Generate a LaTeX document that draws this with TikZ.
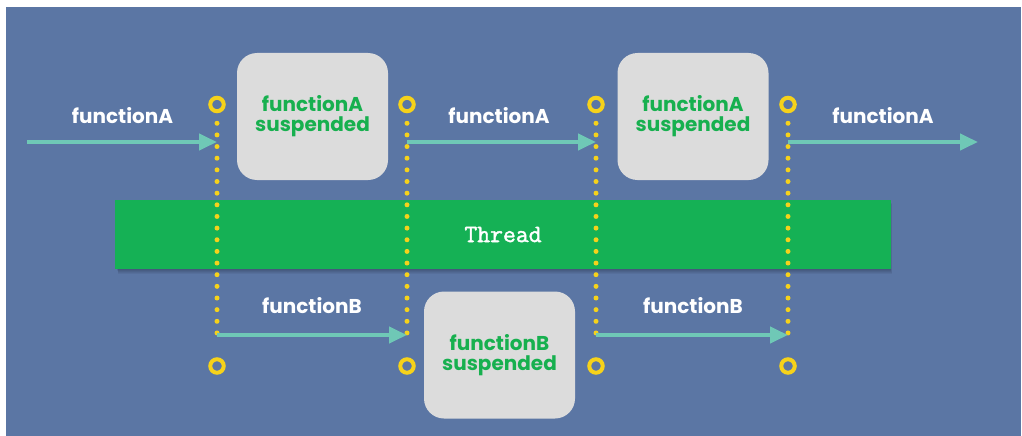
\documentclass[tikz,border=0pt]{standalone}
\usepackage{fontspec}
\setmainfont{Poppins}
\newfontfamily\typew{Latin Modern Mono}[FakeBold=1.6]
\usetikzlibrary{arrows.meta}

\definecolor{slate}{HTML}{5B76A4}
\definecolor{barGreen}{HTML}{15B155}
\definecolor{txtGreen}{HTML}{17B04F}
\definecolor{flowTeal}{HTML}{6FC8B6}
\definecolor{ringYellow}{HTML}{F6D21A}
\definecolor{boxGray}{HTML}{DCDCDC}

\tikzset{
  lbl/.style={text=white, font=\bfseries\fontsize{20}{20}\selectfont, anchor=base, inner sep=0pt},
  suspbox/.style={fill=boxGray, rounded corners=20pt, minimum width=151pt, minimum height=127pt,
    inner sep=0pt, align=center, text=txtGreen, font=\bfseries\fontsize{20}{20}\selectfont},
  ring/.style={circle, draw=ringYellow, line width=4pt, minimum size=13.5pt, inner sep=0pt},
  dotline/.style={draw=ringYellow, line width=5pt, line cap=round, dash pattern=on 0pt off 11.65pt,
    shorten <=10pt, shorten >=19pt},
  flow/.style={draw=flowTeal, line width=4pt, -{Triangle[length=18pt,width=16pt]}},
  threadbar/.style={fill=barGreen, minimum width=776pt, minimum height=69pt, inner sep=0pt,
    text=white, font=\typew\fontsize{25}{25}\selectfont}
}

\begin{document}
\begin{tikzpicture}[x=1pt, y=-1pt]
  \useasboundingbox (0,0) rectangle (1022,436);
  \fill[white] (0,0) rectangle (1022,436);
  \fill[slate] (6,7) rectangle (1021,436);

  % soft shadow under the thread bar
  \foreach \d in {1,2,...,6}
    \fill[black, opacity=0.05] (116+\d*0.4,200+\d*0.6) rectangle (890+\d*0.3,268.5+\d*0.9);
  \node[threadbar] (thread) at (503,234.5) {Thread};

  % suspended states
  \node[suspbox] (boxA1) at (312.5,116.5) {functionA\\suspended};
  \node[suspbox] (boxA2) at (693,116.5) {functionA\\suspended};
  \node[suspbox] (boxB) at (499.5,355) {functionB\\suspended};

  % switch points
  \foreach \i/\x in {1/217, 2/407, 3/596, 4/788} {
    \node[ring] (t\i) at (\x,104.5) {};
    \node[ring] (b\i) at (\x,366) {};
    \draw[dotline] (t\i) -- (b\i);
    \coordinate (ha\i) at (\x,142);
    \coordinate (hb\i) at (\x,335);
  }

  % functionA runs
  \coordinate (startA) at (27,142);
  \coordinate (endA) at (978,142);
  \draw[flow] (startA) -- (ha1);
  \draw[flow] (ha2) -- (ha3);
  \draw[flow] (ha4) -- (endA);

  % functionB runs
  \draw[flow] (hb1) -- (hb2);
  \draw[flow] (hb3) -- (hb4);

  % labels
  \node[lbl] (la1) at (122.5,123) {functionA};
  \node[lbl] (la2) at (499,123) {functionA};
  \node[lbl] (la3) at (883,123) {functionA};
  \node[lbl] (lb1) at (312,313) {functionB};
  \node[lbl] (lb2) at (693,313) {functionB};
\end{tikzpicture}
\end{document}
